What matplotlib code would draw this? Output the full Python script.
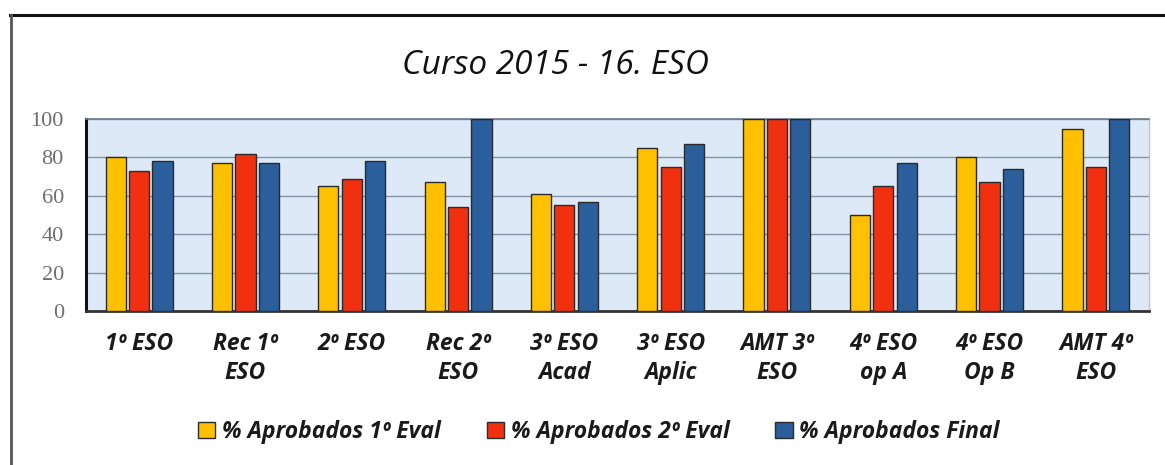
import numpy as np
import matplotlib.pyplot as plt
from matplotlib.lines import Line2D

categories = ['1º ESO', 'Rec 1º\nESO', '2º ESO', 'Rec 2º\nESO', '3º ESO\nAcad',
              '3º ESO\nAplic', 'AMT 3º\nESO', '4º ESO\nop A', '4º ESO\nOp B', 'AMT 4º\nESO']
eval1 = [80, 77, 65, 67, 61, 85, 100, 50, 80, 95]
eval2 = [73, 82, 69, 54, 55, 75, 100, 65, 67, 75]
final = [78, 77, 78, 100, 57, 87, 100, 77, 74, 100]
series_names = ['% Aprobados 1º Eval', '% Aprobados 2º Eval', '% Aprobados Final']
colors = ['#FFC000', '#F0300E', '#2A5F9C']

W, H = 1165, 465
fig = plt.figure(figsize=(W / 100, H / 100), dpi=100)
ax = fig.add_axes([86 / W, 1 - 311 / H, (1149 - 86) / W, (311 - 119) / H])
ax.set_facecolor('#DDE9F6')

x = np.arange(len(categories))
width = 0.19
step = 0.22
for i, (vals, name, c) in enumerate(zip([eval1, eval2, final], series_names, colors)):
    ax.bar(x + (i - 1) * step, vals, width, color=c, edgecolor='#2b2b2b',
           linewidth=1.0, label=name, zorder=3)

ax.set_xlim(-0.5, len(categories) - 0.5)
ax.set_ylim(0, 100)
ax.set_yticks(range(0, 101, 20))
ax.yaxis.grid(True, color='#8593a8', linewidth=1.0, zorder=0)
ax.set_axisbelow(True)

ax.set_xticks(x)
ax.set_xticklabels(categories, fontsize=16.5, fontfamily='Open Sans',
                   fontstyle='italic', fontweight='bold', color='#1a1a1a',
                   linespacing=1.3)
ax.tick_params(axis='x', length=0, pad=15)
ax.tick_params(axis='y', length=0, pad=16, labelsize=16, labelcolor='#6e6e6e')
for lab in ax.get_yticklabels():
    lab.set_fontfamily('Liberation Serif')

ax.spines['left'].set_color('#111111')
ax.spines['left'].set_linewidth(2.2)
ax.spines['bottom'].set_color('#333333')
ax.spines['bottom'].set_linewidth(2.0)
ax.spines['top'].set_color('#6a7890')
ax.spines['top'].set_linestyle((0, (2, 1)))
ax.spines['top'].set_linewidth(1.2)
ax.spines['right'].set_color('#b8c4d4')
ax.spines['right'].set_linewidth(1.0)

fig.text(555 / W, 1 - 65 / H, 'Curso 2015 - 16. ESO', ha='center', va='center',
         fontsize=24, fontfamily='Open Sans', fontstyle='italic', color='#111111')

handles, labels = ax.get_legend_handles_labels()
leg = fig.legend(handles, labels, loc='center', bbox_to_anchor=(599 / W, 1 - 432 / H),
                 ncol=3, frameon=False, handlelength=0.75, handleheight=0.75,
                 handletextpad=0.3, columnspacing=2.0,
                 prop={'family': 'Open Sans', 'style': 'italic', 'weight': 'bold', 'size': 16.5})
for t in leg.get_texts():
    t.set_color('#1a1a1a')

# outer frame of the picture
fig.add_artist(Line2D([10 / W, 1], [1 - 15 / H, 1 - 15 / H], transform=fig.transFigure,
                      color='#111111', linewidth=2.2))
fig.add_artist(Line2D([10.5 / W, 10.5 / W], [0, 1 - 15 / H], transform=fig.transFigure,
                      color='#555555', linewidth=2.0))

fig.savefig('out.png', dpi=100)
